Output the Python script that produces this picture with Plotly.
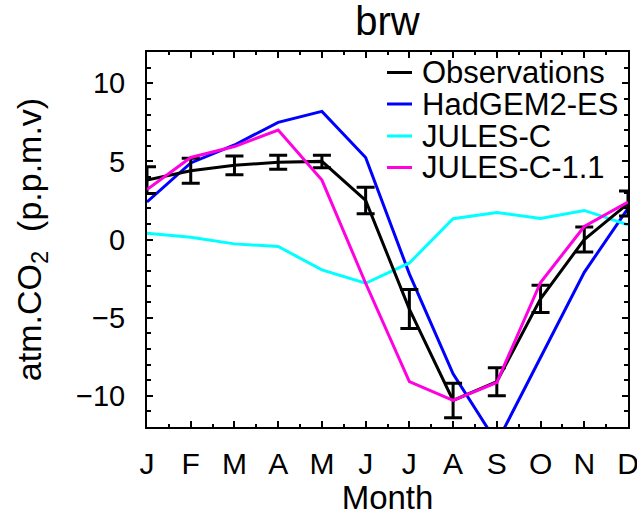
import plotly.graph_objects as go

months = ["J", "F", "M", "A", "M", "J", "J", "A", "S", "O", "N", "D"]
month_idx = list(range(12))

obs = [3.8, 4.4, 4.75, 4.95, 5.0, 2.5, -4.45, -10.3, -9.1, -3.8, 0.0, 2.3]
obs_err = [0.85, 0.8, 0.6, 0.45, 0.4, 0.85, 1.25, 1.1, 0.9, 0.87, 0.8, 0.8]
hadgem = [2.4, 4.9, 6.05, 7.5, 8.2, 5.25, -2.2, -8.6, -13.0, -7.5, -2.1, 2.0]
jules_c = [0.4, 0.15, -0.28, -0.45, -1.94, -2.8, -1.5, 1.33, 1.73, 1.35, 1.86, 0.94]
jules_c11 = [3.2, 5.25, 5.95, 7.0, 3.8, -2.8, -9.1, -10.3, -9.15, -2.75, 0.83, 2.4]

names = ["Observations", "HadGEM2-ES", "JULES-C", "JULES-C-1.1"]
colors = ["#000000", "#0000ff", "#00ffff", "#ff00e0"]

FONT = "Liberation Sans, Arial, Helvetica, sans-serif"

fig = go.Figure()
fig.add_trace(go.Scatter(x=month_idx, y=hadgem, mode="lines", name=names[1],
                         line=dict(color=colors[1], width=3), showlegend=False))
fig.add_trace(go.Scatter(x=month_idx, y=jules_c, mode="lines", name=names[2],
                         line=dict(color=colors[2], width=3), showlegend=False))
fig.add_trace(go.Scatter(x=month_idx, y=obs, mode="lines", name=names[0],
                         line=dict(color=colors[0], width=3),
                         error_y=dict(type="data", array=obs_err, color="black",
                                      thickness=3, width=9),
                         showlegend=False))
fig.add_trace(go.Scatter(x=month_idx, y=jules_c11, mode="lines", name=names[3],
                         line=dict(color=colors[3], width=3), showlegend=False))

FW, FH = 637, 516
# plot area in page pixels
L, R, T, B = 147, 628, 52, 427
W, H = R - L, B - T
def px(x):
    return (x - L) / W
def py(y):
    return (B - y) / H

leg_y = [72.5, 104, 136, 167.5]
for name, col, yy in zip(names, colors, leg_y):
    fig.add_shape(type="line", xref="paper", yref="paper",
                  x0=px(387), x1=px(412), y0=py(yy), y1=py(yy),
                  line=dict(color=col, width=3))
    fig.add_annotation(xref="paper", yref="paper", x=px(420), y=py(yy),
                       xanchor="left", yanchor="middle", showarrow=False,
                       text=name, font=dict(family=FONT, size=31, color="black"))

fig.update_layout(
    width=FW, height=FH,
    margin=dict(l=L, r=FW - R, t=T, b=FH - B, autoexpand=False),
    paper_bgcolor="white", plot_bgcolor="white",
    font=dict(family=FONT, color="black"),
    title=dict(text="brw", x=0.5, xref="paper", xanchor="center",
               y=1 - 21 / FH, yref="container", yanchor="middle",
               font=dict(family=FONT, size=40, color="black")),
)
fig.update_xaxes(
    range=[0, 11], tickmode="array", tickvals=month_idx, ticktext=months,
    automargin=False, ticklabeloverflow="allow",
    showgrid=False, zeroline=False, showline=True, linecolor="black", linewidth=2,
    mirror="allticks", ticks="inside", ticklen=6, tickwidth=1.5, tickcolor="black",
    minor=dict(dtick=0.5, tick0=0, ticks="inside", ticklen=3, tickwidth=1.5, tickcolor="black", showgrid=False),
    tickfont=dict(family=FONT, size=30), ticklabelstandoff=9,
    title=dict(text="Month", font=dict(family=FONT, size=33), standoff=8),
)
fig.update_yaxes(
    range=[-12, 12], tickmode="array", tickvals=[-10, -5, 0, 5, 10],
    automargin=False,
    showgrid=False, zeroline=False, showline=True, linecolor="black", linewidth=2,
    mirror="allticks", ticks="inside", ticklen=6, tickwidth=1.5, tickcolor="black",
    minor=dict(dtick=1, tick0=0, ticks="inside", ticklen=4, tickwidth=1.5, tickcolor="black", showgrid=False),
    tickfont=dict(family=FONT, size=29), ticklabelstandoff=14,
    title=dict(text="atm.CO<sub>2</sub>\u00a0\u00a0(p.p.m.v)", font=dict(family=FONT, size=34), standoff=24),
)

fig.write_html(
    "out.html",
    config={"displayModeBar": False},
    post_script="document.body.style.margin='0';document.body.style.overflow='hidden';",
)
